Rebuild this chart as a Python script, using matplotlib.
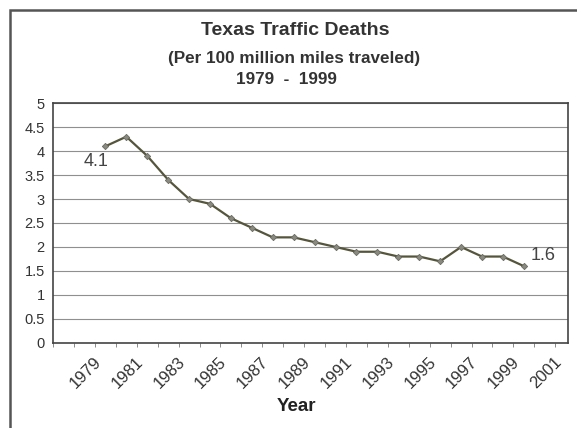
import numpy as np
import matplotlib
matplotlib.use("Agg")
import matplotlib.pyplot as plt
from matplotlib.patches import Rectangle
from matplotlib.transforms import ScaledTranslation

plt.rcParams["font.family"] = ["Liberation Sans", "DejaVu Sans"]

# ── data ─────────────────────────────────────────────────────────────────────
years = list(range(1979, 2000))
deaths = [4.1, 4.3, 3.9, 3.4, 3.0, 2.9, 2.6, 2.4, 2.2, 2.2, 2.1,
          2.0, 1.9, 1.9, 1.8, 1.8, 1.7, 2.0, 1.8, 1.8, 1.6]
tick_years = list(range(1979, 2002, 2))
y_ticks = [0, 0.5, 1, 1.5, 2, 2.5, 3, 3.5, 4, 4.5, 5]

fig = plt.figure(figsize=(5.77, 4.28), dpi=100)
ax = fig.add_axes([0.092, 0.199, 0.892, 0.560])

ax.plot(years, deaths, color="#55553c", lw=1.6, marker="D", ms=3.2,
        mfc="#8a8a80", mec="#6a6a60", mew=0.6, zorder=3)

ax.set_xlim(1976.5, 2001.1)
ax.set_ylim(0, 5)
ax.set_yticks(y_ticks)
ax.set_yticklabels([f"{v:g}" for v in y_ticks])
ax.grid(axis="y", color="#8f8f8f", lw=0.8)
ax.set_axisbelow(True)

# category ticks sit between the years, labels under every other year
ax.set_xticks(np.arange(1976.5, 2001, 1), minor=True)
ax.set_xticks(tick_years)
ax.set_xticklabels([str(y) for y in tick_years], rotation=45,
                   ha="right", va="top", rotation_mode="anchor")
ax.tick_params(axis="x", which="major", length=0, pad=8, labelsize=12,
               labelcolor="#333333")
ax.tick_params(axis="x", which="minor", length=3, color="#777777")
ax.tick_params(axis="y", length=0, pad=6, labelsize=10.5, labelcolor="#333333")
shift = ScaledTranslation(-12 / 100, 0, fig.dpi_scale_trans)
for lbl in ax.get_xticklabels():
    lbl.set_transform(lbl.get_transform() + shift)

for s in ax.spines.values():
    s.set_color("#444444")
    s.set_linewidth(1.2)

ax.annotate(f"{deaths[0]:g}", (years[0], deaths[0]), xytext=(-7, -11),
            textcoords="offset points", ha="center", va="center",
            fontsize=13, color="#444444")
ax.annotate(f"{deaths[-1]:g}", (years[-1], deaths[-1]), xytext=(14, 8),
            textcoords="offset points", ha="center", va="center",
            fontsize=13, color="#444444")

ax.set_xlabel("Year", fontsize=13.5, fontweight="bold", color="#222222")
ax.xaxis.set_label_coords(0.472, -0.232)

fig.text(0.512, 0.928, "Texas Traffic Deaths", ha="center", va="center",
         fontsize=14, fontweight="bold", color="#333333")
fig.text(0.509, 0.864, "(Per 100 million miles traveled)", ha="center",
         va="center", fontsize=12.3, fontweight="bold", color="#333333")
fig.text(0.497, 0.815, "1979  -  1999", ha="center", va="center",
         fontsize=12.3, fontweight="bold", color="#333333")

# outer chart border (runs off the right and bottom of the image)
fig.patches.append(Rectangle((10 / 577, -0.1), 1.2, 0.1 + 418 / 428,
                             transform=fig.transFigure, fill=False,
                             ec="#555555", lw=1.8))

fig.savefig("out.png", dpi=100)
